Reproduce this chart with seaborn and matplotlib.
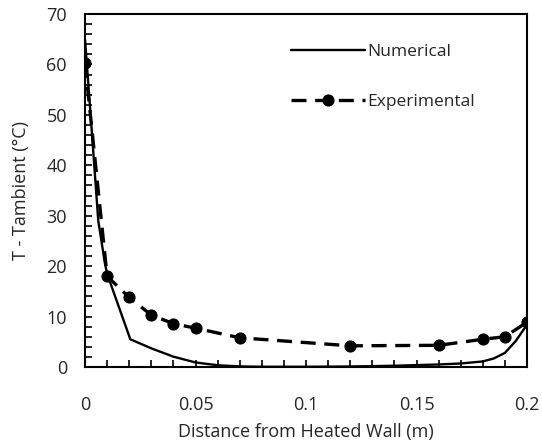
import matplotlib
matplotlib.use("Agg")
import matplotlib.pyplot as plt
import seaborn as sns
import pandas as pd
from matplotlib.ticker import MultipleLocator

# Data
num_x = [0, 0.0027, 0.006, 0.009, 0.01, 0.0205, 0.03, 0.04, 0.05, 0.06, 0.07, 0.08, 0.10, 0.12,
         0.14, 0.16, 0.17, 0.18, 0.185, 0.19, 0.195, 0.2]
num_y = [65, 49, 29, 20.6, 18.5, 5.5, 3.7, 2.05, 0.9, 0.35, 0.12, 0.05, 0.05, 0.1,
         0.25, 0.5, 0.7, 1.1, 1.7, 2.8, 5.2, 8.4]
exp_x = [0, 0.01, 0.02, 0.03, 0.04, 0.05, 0.07, 0.12, 0.16, 0.18, 0.19, 0.2]
exp_y = [60.3, 18.0, 13.8, 10.3, 8.6, 7.7, 5.8, 4.2, 4.3, 5.5, 6.0, 8.9]

sns.set_style("white")
plt.rcParams['font.family'] = ['Open Sans', 'DejaVu Sans']

fig = plt.figure(figsize=(5.42, 4.44), dpi=100)
ax = fig.add_axes([85/542, 1-367/444, (527-85)/542, (367-14)/444])

dn = pd.DataFrame({"x": num_x, "y": num_y})
de = pd.DataFrame({"x": exp_x, "y": exp_y})
sns.lineplot(data=dn, x="x", y="y", ax=ax, color="black", lw=1.7, label="Numerical",
             sort=False, estimator=None)
sns.lineplot(data=de, x="x", y="y", ax=ax, color="black", lw=2.4, marker="o", markersize=8,
             markeredgecolor="black", dashes=False, linestyle=(0, (4.5, 2.6)),
             label="Experimental", sort=False, estimator=None)

ax.set_xlim(0, 0.2)
ax.set_ylim(0, 70)
ax.xaxis.set_major_locator(MultipleLocator(0.05))
ax.xaxis.set_minor_locator(MultipleLocator(0.01))
ax.yaxis.set_major_locator(MultipleLocator(10))
ax.yaxis.set_minor_locator(MultipleLocator(2))
ax.set_xticks([0, 0.05, 0.1, 0.15, 0.2])
ax.set_xticklabels(["0", "0.05", "0.1", "0.15", "0.2"])
ax.tick_params(axis="both", which="both", direction="in", length=5, width=1.2, color="black",
               labelsize=13)
ax.tick_params(axis="x", which="both", pad=21, bottom=True)
ax.tick_params(axis="y", which="both", pad=13, left=True)
for s in ax.spines.values():
    s.set_color("black")
    s.set_linewidth(1.5)

ax.set_xlabel("Distance from Heated Wall (m)", fontsize=13, labelpad=6)
ax.set_ylabel("T - Tambient (°C)", fontsize=13, labelpad=12)

leg = ax.legend(loc="upper left", bbox_to_anchor=(0.43, 0.96), frameon=False, fontsize=12.5,
                handlelength=4.3, labelspacing=1.95, handletextpad=0.1)

fig.savefig("out.png", dpi=100)
